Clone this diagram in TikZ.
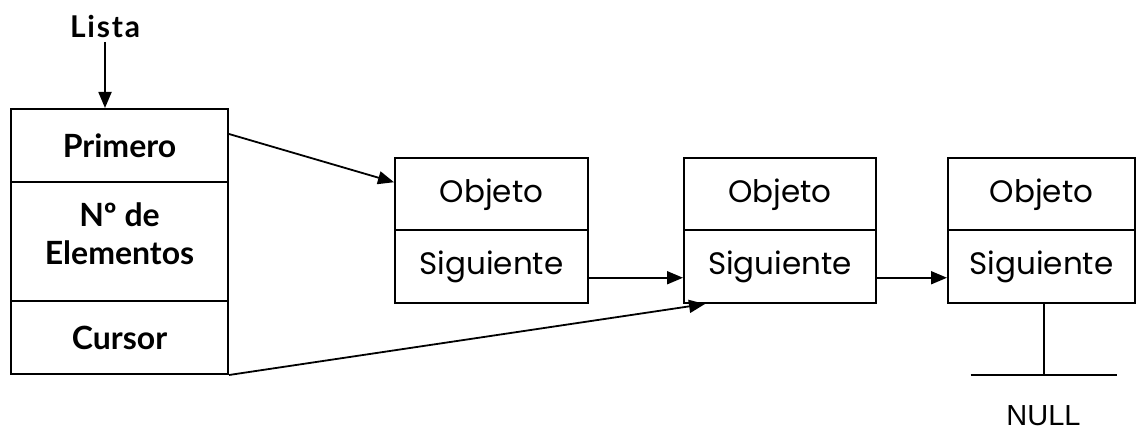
\documentclass[tikz,border=0pt]{standalone}
\usepackage{fontspec}
\setmainfont{Poppins}
\newfontfamily\labelfont{Lato}
\newfontfamily\endfont{Liberation Sans}
\usetikzlibrary{arrows.meta,calc}
\tikzset{
  cell/.style={draw, line width=2pt, rectangle, anchor=north west, inner sep=0pt},
  headfont/.style={font=\labelfont\bfseries\fontsize{32}{38}\selectfont},
  headcell/.style={cell, minimum width=217pt, headfont},
  objcell/.style={cell, minimum height=72.5pt, font=\fontsize{31}{36}\selectfont},
  link/.style={line width=1.8pt, -{Triangle[length=16pt,width=13pt]}},
  bar/.style={line width=2pt}
}
\begin{document}
\begin{tikzpicture}[x=1pt,y=-1pt]
\useasboundingbox (0,0) rectangle (1138,430);
% list header
\node[font=\labelfont\bfseries\fontsize{30}{35}\selectfont\addfontfeatures{LetterSpace=6}] (lista) at (105,27) {Lista};
\node[headcell, minimum height=73pt] (prim) at (10,108) {Primero};
\node[headcell, minimum height=119pt] (nel) at (10,181) {};
\node[headfont, align=center] (neltext) at ($(nel.center)+(0,-8)$) {Nº de\\Elementos};
\node[headcell, minimum height=73pt] (cur) at (10,300) {Cursor};
% nodes of the list
\node[objcell, minimum width=193pt] (obj1) at (394,157) {Objeto};
\node[objcell, minimum width=193pt] (sig1) at (394,229.5) {Siguiente};
\node[objcell, minimum width=192pt] (obj2) at (683,157) {Objeto};
\node[objcell, minimum width=192pt] (sig2) at (683,229.5) {Siguiente};
\node[objcell, minimum width=187pt] (obj3) at (947,157) {Objeto};
\node[objcell, minimum width=187pt] (sig3) at (947,229.5) {Siguiente};
% null terminator
\coordinate (nullpt) at ($(sig3.south)+(2,71)$);
\coordinate (nullL) at ($(nullpt)+(-73,0)$);
\coordinate (nullR) at ($(nullpt)+(73,0)$);
\node[font=\endfont\fontsize{29}{34}\selectfont] (nulltext) at ($(nullpt)+(0,41)$) {NULL};
% pointers
\draw[link] (lista.south) -- (lista.south |- prim.north);
\draw[link] ($(prim.north east)+(0,26)$) -- ($(obj1.west)+(0,-12)$);
\draw[link] ($(sig1.east)+(0,11)$) -- ($(sig2.west)+(0,11)$);
\draw[link] ($(sig2.east)+(0,11)$) -- ($(sig3.west)+(0,11)$);
\draw[link] (cur.south east) -- ($(sig2.south west)+(22,0)$);
\draw[bar] ($(sig3.south)+(2,0)$) -- (nullpt);
\draw[bar] (nullL) -- (nullR);
\end{tikzpicture}
\end{document}
